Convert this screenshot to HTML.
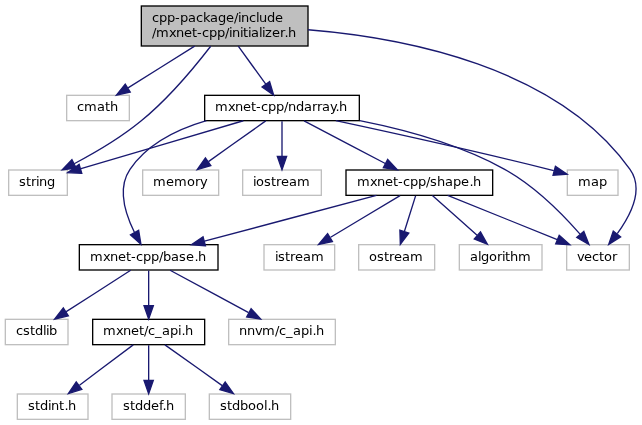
<!DOCTYPE html>
<html lang="en">
<head>
<meta charset="utf-8">
<title>cpp-package/include/mxnet-cpp/initializer.h</title>
<style>
html,body{margin:0;padding:0;background:#fff;}
body{width:642px;height:425px;overflow:hidden;}
svg{display:block;will-change:transform;}
svg text{font-family:"DejaVu Sans","Liberation Sans",sans-serif;font-size:13px;fill:#000;}
</style>
</head>
<body>
<svg width="642" height="425" viewBox="0 0 642 425">
<rect x="0" y="0" width="642" height="425" fill="#fff"/>
<g transform="scale(1.3333333)">
<g class="nodes">
<rect x="106" y="4.5" width="125" height="30" fill="#bfbfbf" stroke="#000"/>
<rect x="50" y="71.5" width="47" height="19" fill="#fff" stroke="#bfbfbf"/>
<rect x="6.5" y="127.5" width="44" height="19" fill="#fff" stroke="#bfbfbf"/>
<rect x="425" y="183.5" width="47" height="19" fill="#fff" stroke="#bfbfbf"/>
<rect x="153.5" y="71.5" width="116" height="19" fill="#fff" stroke="#000"/>
<rect x="425.5" y="127.5" width="38" height="19" fill="#fff" stroke="#bfbfbf"/>
<rect x="107" y="127.5" width="57" height="19" fill="#fff" stroke="#bfbfbf"/>
<rect x="182" y="127.5" width="59" height="19" fill="#fff" stroke="#bfbfbf"/>
<rect x="59.5" y="183.5" width="104" height="19" fill="#fff" stroke="#000"/>
<rect x="259.5" y="127.5" width="110" height="19" fill="#fff" stroke="#000"/>
<rect x="4" y="239.5" width="47" height="19" fill="#fff" stroke="#bfbfbf"/>
<rect x="69.5" y="239.5" width="84" height="19" fill="#fff" stroke="#000"/>
<rect x="171.5" y="239.5" width="80" height="19" fill="#fff" stroke="#bfbfbf"/>
<rect x="13" y="295.5" width="53" height="19" fill="#fff" stroke="#bfbfbf"/>
<rect x="84" y="295.5" width="55" height="19" fill="#fff" stroke="#bfbfbf"/>
<rect x="157" y="295.5" width="61" height="19" fill="#fff" stroke="#bfbfbf"/>
<rect x="198" y="183.5" width="53" height="19" fill="#fff" stroke="#bfbfbf"/>
<rect x="269" y="183.5" width="57" height="19" fill="#fff" stroke="#bfbfbf"/>
<rect x="344.5" y="183.5" width="62" height="19" fill="#fff" stroke="#bfbfbf"/>
</g>
<g class="edges" fill="none" stroke="#191970">
<path d="M145.99,34.6C130.9,44.05 111.11,56.44 96.03,65.89"/>
<path d="M158.01,34.67C146.34,49.82 126.34,73.96 105.5,91 90.21,103.5 71.05,114.71 55.66,122.82"/>
<path d="M231.02,22.33C302.85,28.19 417.82,49.91 472.5,127 482.89,141.65 473,161.32 462.95,175.17"/>
<path d="M178.69,34.6C184.87,43.16 192.8,54.13 199.32,63.14"/>
<path d="M182.5,90.56C149.35,100.34 95.22,116.31 60.76,126.48"/>
<path d="M269.78,90.53C303.13,97.13 344.88,108.38 378.5,127 401.06,139.49 422.04,160.79 435.03,175.58"/>
<path d="M251.85,90.52C292.33,99.2 356.41,113.3 411.5,127 412.76,127.31 414.05,127.64 415.36,127.98"/>
<path d="M199.29,90.68C187.72,98.89 170.12,111.4 156.34,121.19"/>
<path d="M211.5,90.92C211.5,97.99 211.5,108.14 211.5,117.01"/>
<path d="M154.81,90.5C133.15,96.82 110.55,107.82 97.5,127 87.99,140.98 93.94,160.24 100.78,174.16"/>
<path d="M228.05,90.68C244.49,99.3 269.93,112.64 288.97,122.61"/>
<path d="M98,202.68C84.9,211.1 64.79,224.03 49.39,233.93"/>
<path d="M111.5,202.92C111.5,209.99 111.5,220.14 111.5,229.01"/>
<path d="M127.57,202.68C143.46,211.26 168.01,224.51 186.46,234.48"/>
<path d="M99.93,258.68C89.08,266.82 72.62,279.16 59.62,288.91"/>
<path d="M111.5,258.92C111.5,265.99 111.5,276.14 111.5,285.01"/>
<path d="M123.71,258.68C135.28,266.89 152.88,279.4 166.66,289.19"/>
<path d="M335.73,146.56C357.88,155.48 392.82,169.56 417.94,179.68"/>
<path d="M282.33,146.56C247.44,155.84 191.61,170.69 153.33,180.87"/>
<path d="M300.04,146.68C286,155.1 264.45,168.03 247.96,177.93"/>
<path d="M311.69,146.92C309.42,154.15 306.13,164.59 303.29,173.6"/>
<path d="M324.3,146.68C333.32,154.66 346.91,166.69 357.82,176.35"/>
</g>
<g class="arrows" fill="#191970" stroke="#191970">
<polygon points="97.66,69 87.32,71.34 93.94,63.07"/>
<polygon points="57.13,126 46.64,127.45 53.94,119.77"/>
<polygon points="465.47,177.63 456.53,183.32 459.97,173.3"/>
<polygon points="202.22,61.19 205.24,71.34 196.55,65.29"/>
<polygon points="61.32,129.96 50.74,129.44 59.34,123.25"/>
<polygon points="437.89,173.55 441.71,183.43 432.57,178.09"/>
<polygon points="416.57,124.68 425.34,130.62 414.78,131.44"/>
<polygon points="158.11,124.23 147.93,127.17 154.06,118.52"/>
<polygon points="215,117.25 211.5,127.25 208,117.25"/>
<polygon points="103.99,172.74 105.7,183.2 97.85,176.09"/>
<polygon points="290.76,119.6 297.99,127.35 287.51,125.8"/>
<polygon points="51.27,236.88 40.96,239.35 47.48,230.99"/>
<polygon points="115,229.25 111.5,239.25 108,229.25"/>
<polygon points="188.34,231.51 195.47,239.35 185.01,237.67"/>
<polygon points="61.38,291.97 51.28,295.17 57.18,286.37"/>
<polygon points="115,285.25 111.5,295.25 108,285.25"/>
<polygon points="168.94,286.52 175.07,295.17 164.89,292.23"/>
<polygon points="419.4,176.5 427.37,183.48 416.78,182.99"/>
<polygon points="154.08,184.3 143.52,183.48 152.28,177.53"/>
<polygon points="249.3,181.2 238.92,183.35 245.7,175.2"/>
<polygon points="306.6,174.76 300.25,183.25 299.92,172.66"/>
<polygon points="360.35,173.92 365.52,183.17 355.71,179.16"/>
</g>
</g>
<g class="labels">
<text x="152 159 167 175 180 188 196 203 210 218 226 234 238 241 249 256 259 267 275" y="22">cpp-package/include</text>
<text x="152 156 169 176 184 192 197 202 209 217 225 229 232 240 243 248 251 259 262 265 272 280 284.45 288" y="36.6">/mxnet-cpp/initializer.h</text>
<text x="77 84 97 105 110" y="111">cmath</text>
<text x="19 26 31 36 39 47" y="186">string</text>
<text x="577 584 592 599 604 612" y="261">vector</text>
<text x="215 228 235 243 251 256 261 268 276 284 288 296 304 312 317 322 330 335.45 339" y="111">mxnet-cpp/ndarray.h</text>
<text x="578 591 599" y="186">map</text>
<text x="153 166 174 187 195 200" y="186">memory</text>
<text x="253 256 264 271 276 281 289 297" y="186">iostream</text>
<text x="90 103 110 118 126 131 136 143 151 159 163 171 179 186 194.45 198" y="261">mxnet-cpp/base.h</text>
<text x="357 370 377 385 393 398 403 410 418 426 430 437 445 453 461 469.45 473" y="186">mxnet-cpp/shape.h</text>
<text x="16 23 30 35 43 46 49" y="335">cstdlib</text>
<text x="103 116 123 131 139 144 148 155 162 170 178 181.45 185" y="335">mxnet/c_api.h</text>
<text x="239 247 255 262 275 279 286 293 301 309 312.45 316" y="335">nnvm/c_api.h</text>
<text x="28 35 40 48 51 59 64.45 68" y="410">stdint.h</text>
<text x="123 130 135 143 151 159 162.45 166" y="410">stddef.h</text>
<text x="220 227 232 240 248 256 264 267.45 271" y="410">stdbool.h</text>
<text x="275 278 285 290 295 303 311" y="261">istream</text>
<text x="369 377 384 389 394 402 410" y="261">ostream</text>
<text x="470 478 481 489 497 502 505 510 518" y="261">algorithm</text>
</g>
</svg>
</body>
</html>
